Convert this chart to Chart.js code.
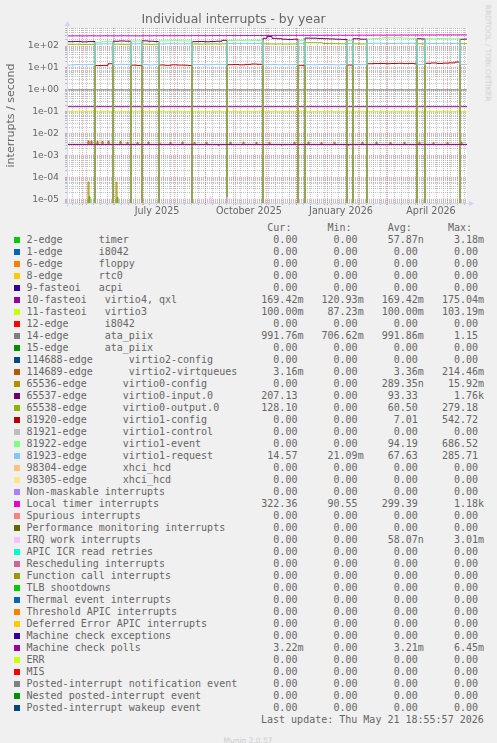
<!DOCTYPE html>
<html>
<head>
<meta charset="utf-8">
<title>Individual interrupts - by year</title>
<script src="https://cdn.jsdelivr.net/npm/chart.js@4.4.1/dist/chart.umd.min.js"></script>
<style>
  html, body { margin: 0; padding: 0; background: #f0f0f0; }
  body { position: relative; width: 497px; height: 743px; overflow: hidden; }
  #graph { position: absolute; left: 0; top: 0; }
  .txt { position: absolute; white-space: pre; color: #666666; font: 10px 'DejaVu Sans Mono', monospace; height: 12px; line-height: 12px; }
  .box { position: absolute; left: 14px; width: 6px; height: 6px; }
  #rrdtool { position: absolute; left: 487.5px; top: 53px; transform: translate(-50%, -50%) rotate(90deg); font: 7.5px 'DejaVu Sans', sans-serif; color: #cccccc; white-space: nowrap; }
  #munin { position: absolute; left: 248px; top: 740px; transform: translate(-50%, -50%); font: 7.5px 'DejaVu Sans', sans-serif; color: #cccccc; white-space: nowrap; }
</style>
</head>
<body>
<canvas id="graph" width="497" height="222"></canvas>
<div id="legend"></div>
<div id="rrdtool">RRDTOOL / TOBI OETIKER</div>
<div id="munin">Munin 2.0.57</div>
<script>
// ---- time axis (1 px = 1 day, 400 days up to the last update) ----
var startDate = '2025-04-16';
var spanDays = 400;
var firstMonday = '2025-04-21';
var monthStarts = ['2025-05-01', '2025-06-01', '2025-07-01', '2025-08-01', '2025-09-01', '2025-10-01',
  '2025-11-01', '2025-12-01', '2026-01-01', '2026-02-01', '2026-03-01', '2026-04-01', '2026-05-01'];
var quarterStarts = ['2025-07-01', '2025-10-01', '2026-01-01', '2026-04-01'];
var quarterLabels = ['July 2025', 'October 2025', 'January 2026', 'April 2026'];

// ---- value axis ----
var yMin = 6.77e-6, yMax = 665;
var yDecadeLabels = ['1e-05', '1e-04', '1e-03', '1e-02', '1e-01', '1e+00', '1e+01', '1e+02'];

// ---- legend table ----
var seriesNames = [
  '2-edge      timer', '1-edge      i8042', '6-edge      floppy', '8-edge      rtc0', '9-fasteoi   acpi',
  '10-fasteoi   virtio4, qxl', '11-fasteoi   virtio3', '12-edge      i8042', '14-edge      ata_piix', '15-edge      ata_piix',
  '114688-edge      virtio2-config', '114689-edge      virtio2-virtqueues', '65536-edge      virtio0-config',
  '65537-edge      virtio0-input.0', '65538-edge      virtio0-output.0', '81920-edge      virtio1-config',
  '81921-edge      virtio1-control', '81922-edge      virtio1-event', '81923-edge      virtio1-request',
  '98304-edge      xhci_hcd', '98305-edge      xhci_hcd',
  'Non-maskable interrupts', 'Local timer interrupts', 'Spurious interrupts', 'Performance monitoring interrupts',
  'IRQ work interrupts', 'APIC ICR read retries', 'Rescheduling interrupts', 'Function call interrupts',
  'TLB shootdowns', 'Thermal event interrupts', 'Threshold APIC interrupts', 'Deferred Error APIC interrupts',
  'Machine check exceptions', 'Machine check polls', 'ERR', 'MIS',
  'Posted-interrupt notification event', 'Nested posted-interrupt event', 'Posted-interrupt wakeup event'
];
var curVals = ['0.00', '0.00', '0.00', '0.00', '0.00', '169.42m', '100.00m', '0.00', '991.76m', '0.00',
  '0.00', '3.16m', '0.00', '207.13', '128.10', '0.00', '0.00', '0.00', '14.57', '0.00',
  '0.00', '0.00', '322.36', '0.00', '0.00', '0.00', '0.00', '0.00', '0.00', '0.00',
  '0.00', '0.00', '0.00', '0.00', '3.22m', '0.00', '0.00', '0.00', '0.00', '0.00'];
var minVals = ['0.00', '0.00', '0.00', '0.00', '0.00', '120.93m', '87.23m', '0.00', '706.62m', '0.00',
  '0.00', '0.00', '0.00', '0.00', '0.00', '0.00', '0.00', '0.00', '21.09m', '0.00',
  '0.00', '0.00', '90.55', '0.00', '0.00', '0.00', '0.00', '0.00', '0.00', '0.00',
  '0.00', '0.00', '0.00', '0.00', '0.00', '0.00', '0.00', '0.00', '0.00', '0.00'];
var avgVals = ['57.87n', '0.00', '0.00', '0.00', '0.00', '169.42m', '100.00m', '0.00', '991.86m', '0.00',
  '0.00', '3.36m', '289.35n', '93.33', '60.50', '7.01', '0.00', '94.19', '67.63', '0.00',
  '0.00', '0.00', '299.39', '0.00', '0.00', '58.07n', '0.00', '0.00', '0.00', '0.00',
  '0.00', '0.00', '0.00', '0.00', '3.21m', '0.00', '0.00', '0.00', '0.00', '0.00'];
var maxVals = ['3.18m', '0.00', '0.00', '0.00', '0.00', '175.04m', '103.19m', '0.00', '1.15', '0.00',
  '0.00', '214.46m', '15.92m', '1.76k', '279.18', '542.72', '0.00', '686.52', '285.71', '0.00',
  '0.00', '0.00', '1.18k', '0.00', '0.00', '3.01m', '0.00', '0.00', '0.00', '0.00',
  '0.00', '0.00', '0.00', '0.00', '6.45m', '0.00', '0.00', '0.00', '0.00', '0.00'];

// ---- plotted series ----
// shared sample days for the virtio0/virtio1 switching series and the local timer
var days = [0, 7, 14, 21, 28, 35, 41, 46, 52, 58, 64, 70, 75, 81, 87, 92, 98, 104, 110, 116, 121,
  125, 131, 137, 143, 149, 155, 160, 166, 172, 178, 184, 190, 196, 200, 205, 210, 215, 220, 226,
  231, 238, 244, 250, 256, 262, 268, 274, 280, 286, 293, 300, 306, 312, 318, 324, 330, 336, 342, 347,
  350, 354, 358, 364, 370, 376, 382, 388, 393, 397, 400];
var input0 = [158, 162, 155, 160, 0, 0, 0, 165, 170, 166, 0, 0, 172, 165, 160, 0, 0, 0, 0, 0, 0,
  158, 160, 157, 160, 165, 182, 0, 0, 0, 0, 0, 0, 225, 270, 225, 215, 205, 200, 205,
  0, 230, 228, 222, 215, 210, 205, 200, 0, 215, 205, 0, 0, 0, 0, 0, 0, 0, 0, 0,
  215, 210, 0, 0, 0, 0, 0, 0, 205, 207, 207];
var output0 = [120, 121, 119, 120, 0, 0, 0, 122, 121, 120, 0, 0, 122, 120, 121, 0, 0, 0, 0, 0, 0,
  124, 123, 124, 125, 124, 126, 0, 0, 0, 0, 0, 0, 126, 125, 124, 124, 123, 124, 125,
  0, 142, 141, 140, 130, 128, 127, 126, 0, 126, 125, 0, 0, 0, 0, 0, 0, 0, 0, 0,
  127, 126, 0, 0, 0, 0, 0, 0, 128, 128, 128];
var v1config = [0, 0, 0, 0, 12.8, 13.0, 15.5, 0, 0, 0, 13.4, 13.0, 0, 0, 0, 13.6, 13.2, 13.8, 13.5, 13.4, 13.0,
  0, 0, 0, 0, 0, 0, 14.0, 14.2, 13.8, 14.5, 15.0, 14.6, 0, 0, 0, 0, 0, 0, 0,
  13.2, 0, 0, 0, 0, 0, 0, 0, 13.5, 0, 0, 15.5, 15.8, 16.0, 15.6, 15.9, 16.2, 15.7, 16.0, 15.4,
  0, 0, 16.2, 16.8, 16.0, 16.5, 17.0, 18.5, 0, 0, 0];
var v1event = [0, 0, 0, 0, 150, 158, 162, 0, 0, 0, 168, 170, 0, 0, 0, 172, 170, 175, 172, 170, 168,
  0, 0, 0, 0, 0, 0, 178, 182, 180, 185, 182, 178, 0, 0, 0, 0, 0, 0, 0,
  175, 0, 0, 0, 0, 0, 0, 0, 178, 0, 0, 210, 222, 232, 240, 235, 238, 230, 225, 218,
  0, 0, 215, 212, 220, 216, 210, 214, 0, 0, 0];
var v1request = [13.5, 14.2, 13.8, 14.5, 124, 126, 125, 14.0, 14.6, 14.2, 126, 127, 14.3, 13.7, 14.1,
  125, 127, 128, 126, 127, 126, 14.0, 14.4, 13.9, 14.2, 14.6, 14.1, 130, 132, 131, 133, 130, 131,
  13.8, 14.1, 14.4, 13.9, 14.2, 14.0, 14.3, 128, 14.1, 13.8, 14.2, 14.5, 14.0, 13.7, 14.2, 130,
  14.3, 14.0, 132, 134, 133, 131, 130, 133, 132, 134, 131, 14.2, 14.4, 133, 131, 132, 134, 130, 132,
  14.5, 14.6, 14.6];
var localTimer = [290, 291, 289, 292, 290, 292, 291, 290, 293, 292, 291, 290, 293, 292, 294,
  295, 296, 294, 297, 296, 295, 298, 297, 296, 298, 299, 297, 300, 299, 301, 300, 302, 301,
  303, 305, 304, 306, 305, 307, 306, 308, 307, 309, 308, 310, 309, 311, 310, 312, 311, 313,
  314, 316, 315, 317, 316, 318, 317, 319, 318, 320, 319, 321, 320, 322, 321, 323, 322, 324, 323, 322];

// flat series
var flatDays = [0, 400];
var virtio4qxl = [0.1694, 0.1694];
var virtio3 = [0.1, 0.1];
var ataPiix = [0.9918, 0.9918];
var mcPolls = [0.00321, 0.00321];

// virtio2-virtqueues: small blips just above machine check polls
var vqDays = [0, 21, 22, 24, 25, 30, 31, 35, 36, 41, 42, 53, 54, 60, 61, 70, 71, 81, 82, 92, 93,
  103, 104, 115, 116, 127, 128, 139, 140, 151, 152, 163, 164, 176, 177, 189, 190, 202, 203,
  214, 215, 227, 228, 241, 242, 254, 255, 267, 268, 281, 282, 295, 296, 309, 310, 323, 324,
  337, 338, 352, 353, 366, 367, 380, 381, 394, 395, 400];
var vqVals = [0.0032, 0.0046, 0.0032, 0.0046, 0.0032, 0.0044, 0.0032, 0.0044, 0.0032, 0.0045, 0.0032,
  0.0044, 0.0032, 0.0040, 0.0032, 0.0040, 0.0032, 0.0041, 0.0032, 0.0039, 0.0032,
  0.0040, 0.0032, 0.0041, 0.0032, 0.0039, 0.0032, 0.0040, 0.0032, 0.0029, 0.0032,
  0.0040, 0.0032, 0.0041, 0.0032, 0.0039, 0.0032, 0.0040, 0.0032, 0.0029, 0.0032,
  0.0040, 0.0032, 0.0041, 0.0032, 0.0039, 0.0032, 0.0040, 0.0032, 0.0029, 0.0032,
  0.0040, 0.0032, 0.0041, 0.0032, 0.0039, 0.0032, 0.0040, 0.0032, 0.0041, 0.0032,
  0.0039, 0.0032, 0.0040, 0.0032, 0.0041, 0.0032, 0.00316];

// tiny spikes near the bottom
var timerDays = [0, 22, 23, 50, 51, 400];
var timerVals = [0, 1.3e-5, 0, 1.2e-5, 0, 0];
var v0configDays = [0, 21, 22, 49, 50, 400];
var v0configVals = [0, 6.2e-5, 0, 6.0e-5, 0, 0];
var irqWorkDays = [0, 143, 144, 160, 161, 400];
var irqWorkVals = [0, 1.3e-5, 0, 1.2e-5, 0, 0];

// munin default colour cycle (legend order)
var palette = ['#00CC00', '#0066B3', '#FF8000', '#FFCC00', '#330099', '#990099', '#CCFF00', '#FF0000', '#808080',
  '#008F00', '#00487D', '#B35A00', '#B38F00', '#6B006B', '#8FB300', '#B30000', '#BEBEBE', '#80FF80', '#80C9FF',
  '#FFC080', '#FFE680', '#AA80FF', '#EE00CC', '#FF8080', '#666600', '#FFBFFF', '#00FFCC', '#CC6699', '#999900',
  '#00CC00', '#0066B3', '#FF8000', '#FFCC00', '#330099', '#990099', '#CCFF00', '#FF0000', '#808080', '#008F00', '#00487D'];

// [legend index, x values, y values]
var plotted = [
  [0, timerDays, timerVals],
  [5, flatDays, virtio4qxl],
  [6, flatDays, virtio3],
  [8, flatDays, ataPiix],
  [11, vqDays, vqVals],
  [12, v0configDays, v0configVals],
  [13, days, input0],
  [14, days, output0],
  [15, days, v1config],
  [17, days, v1event],
  [18, days, v1request],
  [22, days, localTimer],
  [25, irqWorkDays, irqWorkVals],
  [34, flatDays, mcPolls]
];

var fontColor = '#666666';
var axisColor = '#CFD6F8';
var gridMinor = 'rgba(143,143,143,0.55)';
var gridMajor = 'rgba(222,79,79,0.5)';
var labelShift = 14; // rrdtool centres the quarter label a bit after the month start

function dayOf(s) {
  return (Date.parse(s) - Date.parse(startDate)) / 864e5;
}

function buildXTicks(scale) {
  var t = [];
  for (var d = dayOf(firstMonday); d < spanDays; d += 7) t.push({ value: d, kind: 'week' });
  monthStarts.forEach(function (s) { t.push({ value: dayOf(s), kind: 'month' }); });
  quarterStarts.forEach(function (s, i) {
    t.push({ value: dayOf(s) + labelShift, kind: 'label', text: quarterLabels[i] });
  });
  t.sort(function (a, b) { return a.value - b.value; });
  scale.ticks = t;
}

function buildYTicks(scale) {
  var t = [];
  for (var e = -6; e <= 2; e++) {
    for (var k = 1; k <= 9; k++) {
      var v = k * Math.pow(10, e);
      if (v >= yMin && v <= yMax) t.push({ value: v, k: k, exp: e });
    }
  }
  scale.ticks = t;
}

function xGridColor(c) {
  if (!c.tick) return 'rgba(0,0,0,0)';
  if (c.tick.kind === 'month') return gridMajor;
  if (c.tick.kind === 'week') return gridMinor;
  return 'rgba(0,0,0,0)';
}

function yGridColor(c) {
  if (!c.tick) return 'rgba(0,0,0,0)';
  return c.tick.k === 1 ? gridMajor : gridMinor;
}

// log scale: a zero reading is pushed far below the axis so the line drops out of the plot
function floorZero(v) {
  return v > 0 ? v : yMin * 1e-3;
}

var datasets = plotted.map(function (p) {
  var idx = p[0];
  return {
    label: seriesNames[idx],
    data: p[1].map(function (d, j) { return { x: d, y: floorZero(p[2][j]) }; }),
    borderColor: palette[idx],
    borderWidth: 1,
    pointRadius: 0,
    fill: false,
    stepped: true,
    order: 100 - idx
  };
});

var muninFrame = {
  id: 'muninFrame',
  beforeDraw: function (chart) {
    var a = chart.chartArea, c = chart.ctx;
    c.save();
    c.fillStyle = '#ffffff';
    c.fillRect(a.left, a.top, a.right - a.left, a.bottom - a.top);
    c.restore();
  },
  afterDraw: function (chart) {
    var a = chart.chartArea, c = chart.ctx;
    var x0 = a.left, y0 = a.bottom, x1 = a.right, y1 = a.top;
    c.save();
    c.strokeStyle = axisColor;
    c.fillStyle = axisColor;
    c.lineWidth = 1;
    c.beginPath();
    c.moveTo(x0 - 4, y0 + 0.5); c.lineTo(x1 + 4, y0 + 0.5);
    c.moveTo(x0 + 0.5, y0 + 4); c.lineTo(x0 + 0.5, y1 - 4);
    c.stroke();
    c.beginPath();
    c.moveTo(x1 + 2, y0 + 0.5 - 3); c.lineTo(x1 + 2, y0 + 0.5 + 3); c.lineTo(x1 + 7, y0 + 0.5);
    c.closePath(); c.fill();
    c.beginPath();
    c.moveTo(x0 + 0.5 - 3, y1 - 2); c.lineTo(x0 + 0.5 + 3, y1 - 2); c.lineTo(x0 + 0.5, y1 - 7);
    c.closePath(); c.fill();
    c.restore();
  }
};

var chart = new Chart(document.getElementById('graph'), {
  type: 'line',
  data: { datasets: datasets },
  plugins: [muninFrame],
  options: {
    responsive: false,
    animation: false,
    devicePixelRatio: 1,
    events: [],
    layout: { padding: { left: 0, right: 30, top: 0, bottom: 0 } },
    plugins: {
      legend: { display: false },
      tooltip: { enabled: false },
      title: {
        display: true,
        text: 'Individual interrupts - by year',
        color: fontColor,
        font: { family: 'DejaVu Sans', size: 12.4, weight: 'normal', lineHeight: 1 },
        padding: { top: 13.8, bottom: 1.8 }
      }
    },
    scales: {
      x: {
        type: 'linear',
        bounds: 'data',
        min: 0,
        max: spanDays,
        afterBuildTicks: buildXTicks,
        afterFit: function (s) { s.height = 19; },
        ticks: {
          autoSkip: false,
          maxRotation: 0,
          padding: 1,
          color: fontColor,
          font: { family: 'DejaVu Sans', size: 9.6 },
          callback: function (v, i, ticks) { return ticks[i].text || ''; }
        },
        grid: { color: xGridColor, lineWidth: 1, tickLength: 2 },
        border: { display: false, dash: [1, 1] }
      },
      y: {
        type: 'logarithmic',
        bounds: 'data',
        min: yMin,
        max: yMax,
        afterBuildTicks: buildYTicks,
        afterFit: function (s) { s.width = 67; },
        ticks: {
          autoSkip: false,
          padding: 6,
          color: fontColor,
          font: { family: 'DejaVu Sans', size: 9.3 },
          callback: function (v, i, ticks) {
            var t = ticks[i];
            return t.k === 1 ? yDecadeLabels[t.exp + 5] : '';
          }
        },
        title: {
          display: true,
          text: 'interrupts / second',
          color: fontColor,
          font: { family: 'DejaVu Sans', size: 11 },
          padding: { top: 4.4, bottom: 0 }
        },
        grid: { color: yGridColor, lineWidth: 1, tickLength: 2 },
        border: { display: false, dash: [1, 1] }
      }
    }
  }
});

// ---- legend below the graph ----
var legend = document.getElementById('legend');
var textLeft = 26.5;

function addText(text, top, left) {
  var d = document.createElement('div');
  d.className = 'txt';
  d.style.top = top + 'px';
  d.style.left = left + 'px';
  d.textContent = text;
  legend.appendChild(d);
}

// rrdtool "%6.2lf%s": number right aligned in 6 chars, then the unit (or a blank)
function cell(s) {
  var m = /^([0-9.]+)([a-zA-Z]?)$/.exec(s);
  return m[1].padStart(6, ' ') + (m[2] || ' ');
}

addText(' '.repeat(40) + 'Cur:      Min:      Avg:      Max:', 221.7, textLeft);

seriesNames.forEach(function (name, i) {
  var top = 233.7 + 12 * i;
  var box = document.createElement('div');
  box.className = 'box';
  box.style.top = (top + 3) + 'px';
  box.style.background = palette[i];
  legend.appendChild(box);
  var vals = [curVals[i], minVals[i], avgVals[i], maxVals[i]].map(cell).join('   ');
  addText(name.padEnd(39, ' ') + vals, top, textLeft);
});

addText('Last update: Thu May 21 18:55:57 2026', 714, 261);
</script>
</body>
</html>
